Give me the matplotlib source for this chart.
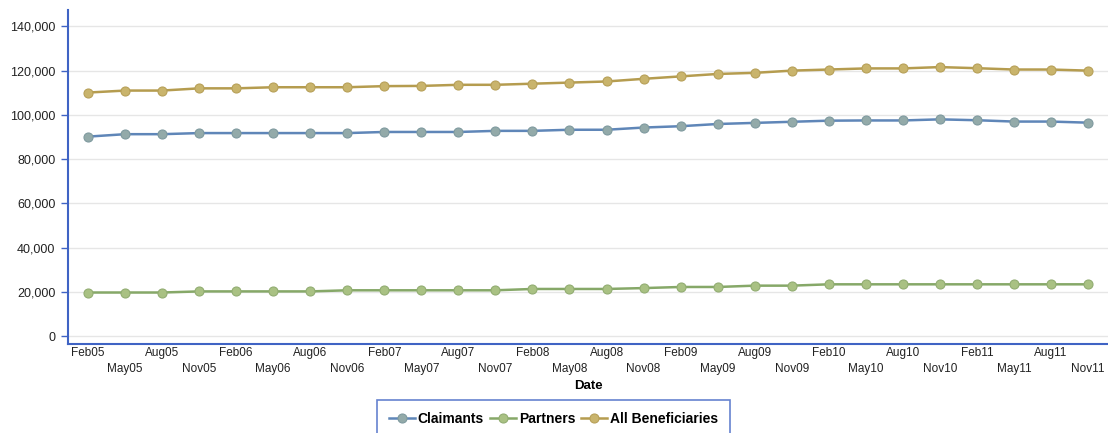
import matplotlib.pyplot as plt
from matplotlib.ticker import FuncFormatter

# quarterly dates, Feb05 .. Nov11
dates = ['Feb05', 'May05', 'Aug05', 'Nov05', 'Feb06', 'May06', 'Aug06', 'Nov06',
         'Feb07', 'May07', 'Aug07', 'Nov07', 'Feb08', 'May08', 'Aug08', 'Nov08',
         'Feb09', 'May09', 'Aug09', 'Nov09', 'Feb10', 'May10', 'Aug10', 'Nov10',
         'Feb11', 'May11', 'Aug11', 'Nov11']

claimants = [90200, 91300, 91300, 91800, 91800, 91800, 91800, 91800,
             92300, 92300, 92300, 92800, 92800, 93300, 93300, 94300,
             94900, 95900, 96400, 96900, 97400, 97500, 97500, 98000,
             97600, 97000, 97000, 96500]
partners = [19800, 19800, 19800, 20300, 20300, 20300, 20300, 20800,
            20800, 20800, 20800, 20800, 21400, 21400, 21400, 21800,
            22300, 22300, 22900, 22900, 23500, 23500, 23500, 23500,
            23500, 23500, 23500, 23500]
all_benef = [110100, 111000, 111000, 112000, 112000, 112500, 112500, 112500,
             113000, 113100, 113600, 113600, 114100, 114600, 115100, 116300,
             117400, 118500, 119000, 120000, 120500, 121000, 121000, 121600,
             121100, 120500, 120500, 120000]

plt.rcParams['font.family'] = ['Liberation Sans', 'DejaVu Sans']
narrow = ['Liberation Sans Narrow', 'Liberation Sans', 'DejaVu Sans']
blue = '#3f63c4'

fig = plt.figure(figsize=(11.08, 4.33), dpi=100)
ax = fig.add_axes([0.0614, 0.2055, 0.9386, 0.7715])

x = list(range(len(dates)))
series = [
    ('Claimants', claimants, '#5f86b8', '#93aaa9', '#7f9a9f'),
    ('Partners', partners, '#86a868', '#a9c183', '#92ad72'),
    ('All Beneficiaries', all_benef, '#b59c4f', '#c9b46c', '#b7a058'),
]
for name, vals, lc, fc, ec in series:
    ax.plot(x, vals, color=lc, lw=1.8, marker='o', ms=6.5,
            mfc=fc, mec=ec, mew=0.8, label=name, zorder=3)

ax.set_xlim(-0.54, 27.54)
ax.set_ylim(-3460, 147400)
ax.set_yticks(range(0, 140001, 20000))
ax.yaxis.set_major_formatter(FuncFormatter(lambda v, p: f'{int(v):,}'))
ax.grid(axis='y', color='#e6e6e6', lw=1)
ax.set_axisbelow(True)

# two rows of date labels
ax.set_xticks(x[::2])
ax.set_xticklabels(dates[::2])
ax.set_xticks(x[1::2], minor=True)
ax.set_xticklabels(dates[1::2], minor=True)
ax.tick_params(axis='x', which='major', length=0, pad=2.5, labelsize=8.5, colors='#222222')
ax.tick_params(axis='x', which='minor', length=0, pad=14, labelsize=8.5, colors='#222222')
ax.tick_params(axis='y', length=5, width=1, color=blue, pad=4, labelsize=9, labelcolor='#222222')

for s in ['top', 'right']:
    ax.spines[s].set_visible(False)
for s in ['left', 'bottom']:
    ax.spines[s].set_color(blue)
    ax.spines[s].set_linewidth(1.5)

fig.text(0.5307, 1 - 386 / 433, 'Date', ha='center', va='center',
         fontsize=9.5, fontweight='bold', family=narrow)

leg = fig.legend(loc='upper center', bbox_to_anchor=(0.4995, 1 - 400 / 433), ncol=3,
                 prop={'family': narrow, 'weight': 'bold', 'size': 10},
                 frameon=True, fancybox=False, handlelength=1.9,
                 handletextpad=0.2, columnspacing=0.4, borderpad=0.85, borderaxespad=0)
leg.get_frame().set_edgecolor(blue)
leg.get_frame().set_linewidth(1.2)

fig.savefig('out.png', dpi=100)
